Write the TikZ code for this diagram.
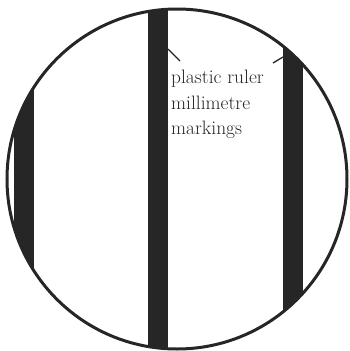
\documentclass[tikz,border=0pt]{standalone}
\definecolor{ink}{HTML}{262626}
\tikzset{
  bar/.style={fill=ink, draw=none},
  rim/.style={draw=ink, line width=3bp},
  leader/.style={draw=ink, line width=1.3bp},
  lbl/.style={text=ink, font=\fontsize{19.5}{26}\selectfont, align=left, inner sep=0pt, anchor=north west}
}
\begin{document}
\begin{tikzpicture}[x=1bp,y=-1bp]
\useasboundingbox (0,0) rectangle (350,351);
\coordinate (c) at (177,179);
\begin{scope}
  \clip (c) circle (170);
  \fill[bar] (14,0) rectangle (34,351);
  \fill[bar] (148,0) rectangle (168,351);
  \fill[bar] (283,0) rectangle (303,351);
\end{scope}
\draw[rim] (c) circle (170);
\node[lbl] (t) at (171,69.5) {plastic ruler\\millimetre\\markings};
\coordinate (a1) at (168,49);
\coordinate (a2) at (180,61);
\coordinate (b1) at (273,63);
\coordinate (b2) at (283,57);
\draw[leader] (a1) -- (a2);
\draw[leader] (b1) -- (b2);
\end{tikzpicture}
\end{document}
